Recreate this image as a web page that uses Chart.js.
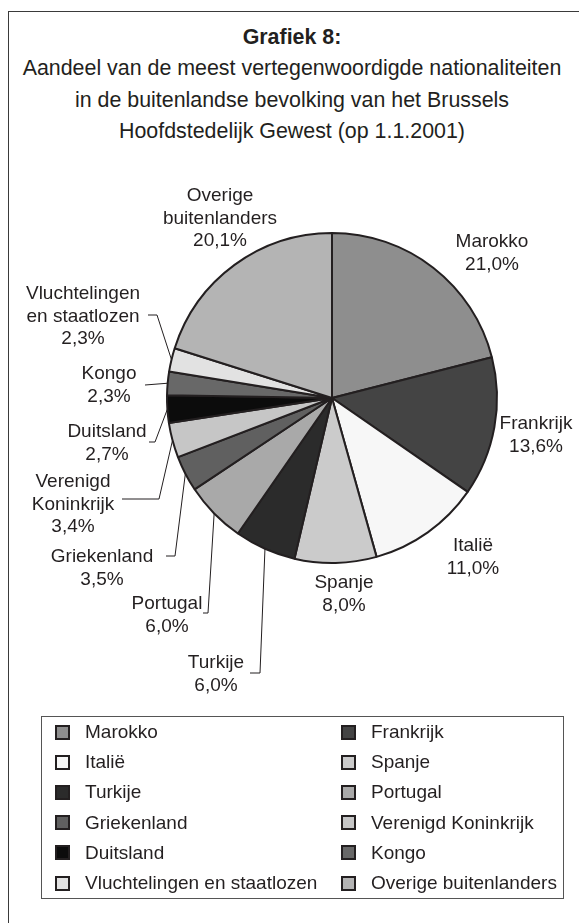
<!DOCTYPE html>
<html><head><meta charset="utf-8">
<script src="https://cdn.jsdelivr.net/npm/chart.js@4.4.1/dist/chart.umd.min.js"></script>
<style>
html,body{margin:0;padding:0;background:#fff;overflow:hidden;}
#page{position:relative;width:579px;height:923px;overflow:hidden;font-family:"Liberation Sans",Arial,sans-serif;color:#231f20;background:#fff;}
#frame{position:absolute;left:8px;top:11px;width:700px;height:1000px;border:1.5px solid #3a3a3a;box-sizing:border-box;}
#title{position:absolute;left:2px;width:580px;top:22px;text-align:center;font-size:21.4px;line-height:31.3px;}
#title .b{font-weight:bold;}
#chart{position:absolute;left:0;top:0;}
#legend{position:absolute;left:41px;top:716px;width:523px;height:183px;border:1px solid #555;box-sizing:border-box;}
.item{position:absolute;height:22px;display:flex;align-items:center;font-size:19px;white-space:nowrap;}
.sw{width:15px;height:15px;border:2px solid #231f20;box-sizing:border-box;margin-right:15px;flex:none;}
</style>
</head><body>
<div id="page">
  <div id="frame"></div>
  <div id="title"><div class="b">Grafiek 8:</div><div>Aandeel van de meest vertegenwoordigde nationaliteiten</div><div>in de buitenlandse bevolking van het Brussels</div><div>Hoofdstedelijk Gewest (op 1.1.2001)</div></div>
  <canvas id="chart" width="579" height="923"></canvas>
  <div id="legend"></div>
</div>
<script>
const categories = ['Marokko','Frankrijk','Italië','Spanje','Turkije','Portugal','Griekenland','Verenigd Koninkrijk','Duitsland','Kongo','Vluchtelingen en staatlozen','Overige buitenlanders'];
const shares = [21.0, 13.6, 11.0, 8.0, 6.0, 6.0, 3.5, 3.4, 2.7, 2.3, 2.3, 20.1];
const labelLines = [['Marokko'],['Frankrijk'],['Italië'],['Spanje'],['Turkije'],['Portugal'],['Griekenland'],['Verenigd','Koninkrijk'],['Duitsland'],['Kongo'],['Vluchtelingen','en staatlozen'],['Overige','buitenlanders']];
const sliceColors = ['#8e8e8e','#444444','#f7f7f7','#cbcbcb','#2b2b2b','#a9a9a9','#606060','#c6c6c6','#0c0c0c','#686868','#e2e2e2','#b4b4b4'];

// label placement relative to pie centre (layout only)
const labelLayout = [
  {dx:160, dy:-156},
  {dx:204, dy:26},
  {dx:141, dy:148},
  {dx:12, dy:185},
  {dx:-116, dy:265, leader:[[-72,275],[-82,275]]},
  {dx:-165, dy:206, leader:[[-124,215],[-129,215]]},
  {dx:-230, dy:159, leader:[[-157,158],[-166,158]]},
  {dx:-259, dy:84, leader:[[-173,101],[-210,101]]},
  {dx:-225, dy:34, leader:[[-177,44],[-183,44]]},
  {dx:-223, dy:-24, leader:[[-187,-13]]},
  {dx:-249, dy:-104, leader:[[-175,-83],[-184,-83]]},
  {dx:-112, dy:-202}
];
const LH = 22.4;
const fmt = v => v.toFixed(1).replace('.', ',') + '%';

const labelPlugin = {
  id: 'sliceLabels',
  afterDatasetsDraw(chart) {
    const ctx = chart.ctx;
    const meta = chart.getDatasetMeta(0);
    ctx.save();
    ctx.font = '19px "Liberation Sans", Arial, sans-serif';
    ctx.fillStyle = '#231f20';
    ctx.strokeStyle = '#231f20';
    ctx.lineWidth = 1;
    ctx.textAlign = 'center';
    ctx.textBaseline = 'middle';
    meta.data.forEach((arc, i) => {
      const p = arc.getProps(['x','y','startAngle','endAngle','outerRadius'], true);
      const mid = (p.startAngle + p.endAngle) / 2;
      const L = labelLayout[i];
      if (L.leader) {
        ctx.beginPath();
        ctx.moveTo(p.x + Math.cos(mid) * p.outerRadius, p.y + Math.sin(mid) * p.outerRadius);
        L.leader.forEach(([dx, dy]) => ctx.lineTo(p.x + dx, p.y + dy));
        ctx.stroke();
      }
      const lines = [...labelLines[i], fmt(shares[i])];
      lines.forEach((t, k) => ctx.fillText(t, p.x + L.dx, p.y + L.dy + k * LH));
    });
    ctx.restore();
  }
};

new Chart(document.getElementById('chart'), {
  type: 'pie',
  data: {
    labels: categories,
    datasets: [{
      data: shares,
      backgroundColor: sliceColors,
      borderColor: '#231f20',
      borderWidth: 2,
      radius: 165
    }]
  },
  options: {
    responsive: false,
    animation: false,
    layout: {padding: {left: 166, right: 81, top: 232, bottom: 359}},
    plugins: {legend: {display: false}, tooltip: {enabled: false}}
  },
  plugins: [labelPlugin]
});

// legend built from the same arrays
const legend = document.getElementById('legend');
categories.forEach((name, i) => {
  const col = i % 2, row = Math.floor(i / 2);
  const it = document.createElement('div');
  it.className = 'item';
  it.style.left = (col ? 299 : 13) + 'px';
  it.style.top = (4 + row * 30.2) + 'px';
  const sw = document.createElement('span');
  sw.className = 'sw';
  sw.style.background = sliceColors[i];
  const tx = document.createElement('span');
  tx.textContent = name;
  it.appendChild(sw); it.appendChild(tx);
  legend.appendChild(it);
});
</script>
</body></html>
